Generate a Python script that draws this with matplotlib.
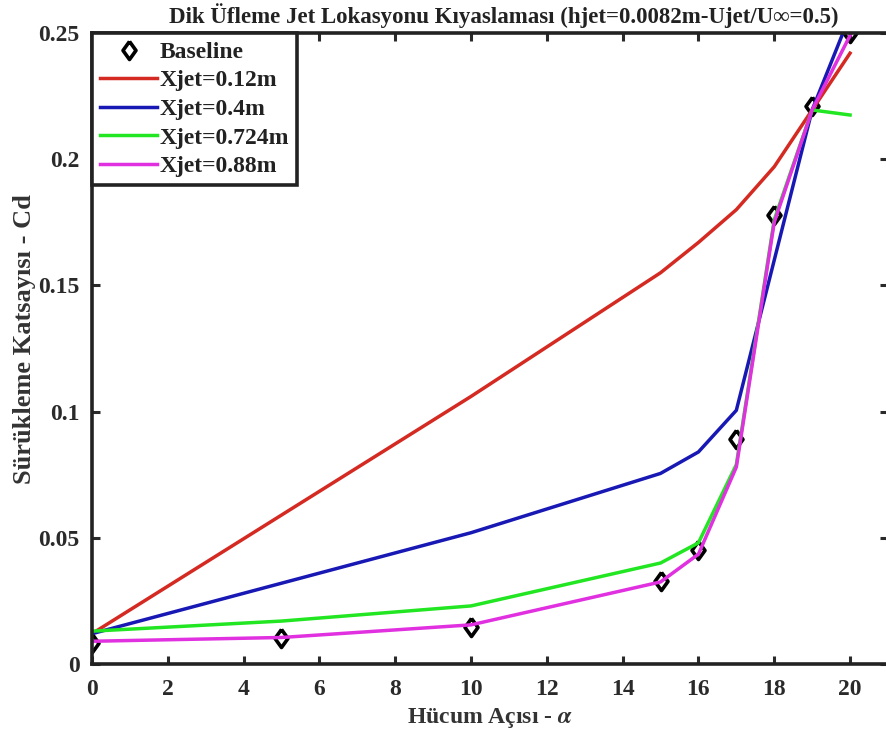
import matplotlib.pyplot as plt
import numpy as np

# Angle of attack (deg) and drag coefficient for each jet location
alpha = [0, 5, 10, 15, 16, 17, 18, 19, 20]
cd_baseline = [0.0085, 0.0102, 0.0148, 0.033, 0.045, 0.089, 0.178, 0.221, 0.250]
cd_x012 = [0.012, 0.059, 0.106, 0.155, 0.167, 0.180, 0.197, 0.2195, 0.242]
cd_x040 = [0.012, 0.032, 0.052, 0.0755, 0.084, 0.1005, 0.160, 0.2195, 0.257]
cd_x0724 = [0.013, 0.017, 0.023, 0.040, 0.048, 0.079, 0.176, 0.2195, 0.2175]
cd_x088 = [0.009, 0.0105, 0.0155, 0.0325, 0.0435, 0.078, 0.175, 0.2195, 0.249]

plt.rcParams['font.family'] = ['Liberation Serif', 'DejaVu Serif']
plt.rcParams['font.weight'] = 'bold'
plt.rcParams['mathtext.fontset'] = 'stix'

fig = plt.figure(figsize=(8.86, 7.38), dpi=100)
ax = fig.add_axes([0.1038, 0.1003, 0.8984, 0.855])

# tall open diamond like the MATLAB 'd' marker
diamond = [(0, 1), (0.72, 0), (0, -1), (-0.72, 0), (0, 1)]

ax.plot(alpha, cd_baseline, linestyle='none', marker=diamond, markersize=13,
        markerfacecolor='none', markeredgecolor='black', markeredgewidth=2.6,
        label='Baseline')
ax.plot(alpha, cd_x012, color='#d42a22', lw=2.5, label='Xjet=0.12m')
ax.plot(alpha, cd_x040, color='#1818b4', lw=2.5, label='Xjet=0.4m')
ax.plot(alpha, cd_x0724, color='#22e622', lw=2.5, label='Xjet=0.724m')
ax.plot(alpha, cd_x088, color='#e030e0', lw=2.5, label='Xjet=0.88m')

ax.set_xlim(0, 21)
ax.set_ylim(0, 0.25)
ax.set_xticks(np.arange(0, 21, 2))
ax.set_yticks([0, 0.05, 0.1, 0.15, 0.2, 0.25])
ax.set_yticklabels(['0', '0.05', '0.1', '0.15', '0.2', '0.25'])

ax.tick_params(axis='both', direction='in', length=6, width=2.2,
               top=True, right=True, labelsize=17, colors='#2a2a2a')
ax.tick_params(axis='x', pad=11)
ax.tick_params(axis='y', pad=9)
for s in ax.spines.values():
    s.set_linewidth(2.6)
    s.set_color('#222222')

ax.set_title('Dik Üfleme Jet Lokasyonu Kıyaslaması (hjet=0.0082m-Ujet/U∞=0.5)',
             fontsize=16.5, fontweight='bold', color='#222222', pad=7, x=0.517)
ax.set_xlabel(r'Hücum Açısı - $\alpha$', fontsize=17, fontweight='bold',
              color='#333333', labelpad=4)
ax.set_ylabel('Sürükleme Katsayısı - Cd', fontsize=19, fontweight='bold',
              color='#333333')
ax.yaxis.set_label_coords(-0.07, 0.515)

leg = ax.legend(loc='upper left', borderaxespad=0, fontsize=17, handlelength=2.4,
                handletextpad=0.1, labelspacing=0.3, fancybox=False,
                framealpha=1, edgecolor='#222222', borderpad=0.35)
leg.get_frame().set_linewidth(2.6)
for t in leg.get_texts():
    t.set_fontweight('bold')
    t.set_color('#222222')

plt.savefig('out.png', dpi=100)
